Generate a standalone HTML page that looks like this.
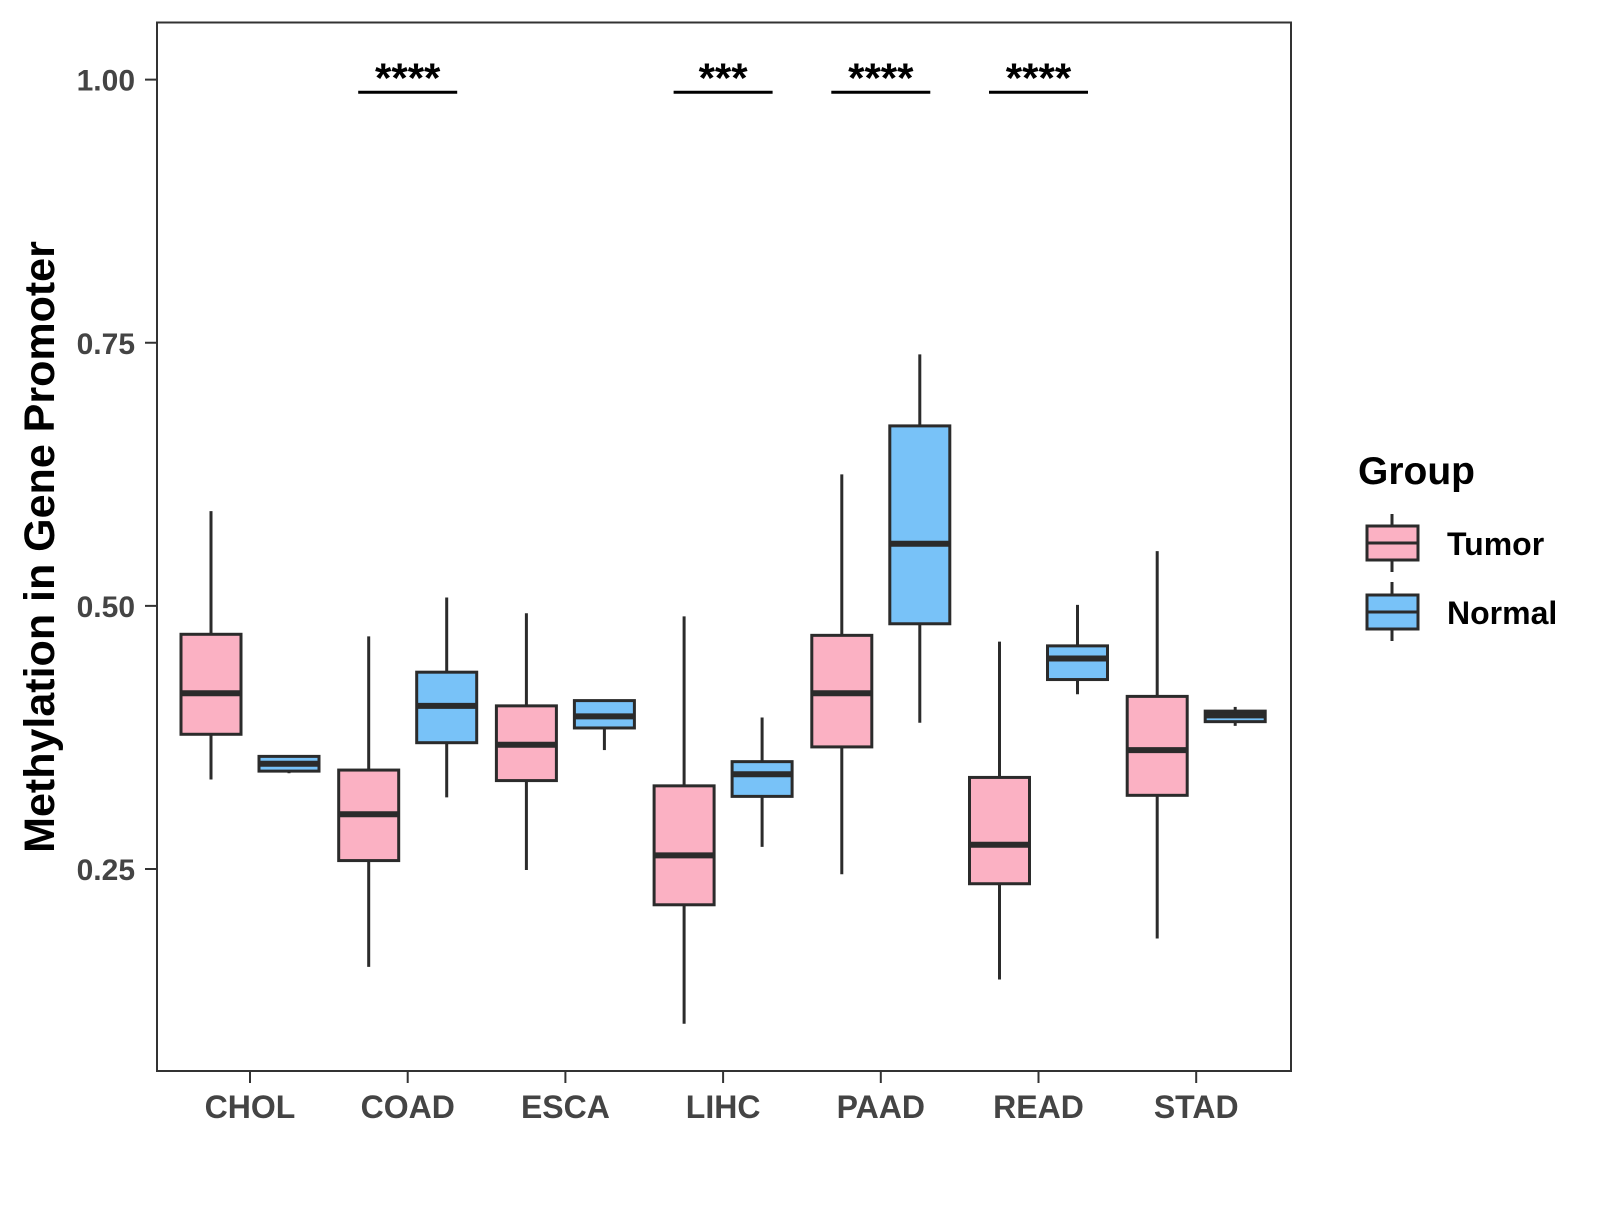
<!DOCTYPE html>
<html><head><meta charset="utf-8"><style>
body{margin:0;background:#fff}
svg text{font-family:"Liberation Sans",Arial,sans-serif;font-weight:bold}
</style></head><body>
<svg id="chart" width="1600" height="1200" xmlns="http://www.w3.org/2000/svg">
<rect x="157" y="22.5" width="1134" height="1048.5" fill="#fff" stroke="#333" stroke-width="2"/>
<g id="marks"></g>
<g id="axes"></g>
<text transform="translate(54,547) rotate(-90)" text-anchor="middle" font-size="43" fill="#000">Methylation in Gene Promoter</text>
<g>
<text x="1358" y="484" font-size="39" fill="#000">Group</text>
<g>
<line x1="1392" y1="514" x2="1392" y2="572" stroke="#2b2b2b" stroke-width="3"/>
<rect x="1367" y="526" width="51" height="34" fill="#FBB1C3" stroke="#2b2b2b" stroke-width="3"/>
<line x1="1367" y1="543" x2="1418" y2="543" stroke="#2b2b2b" stroke-width="3"/>
<text x="1447" y="555" font-size="32" fill="#000">Tumor</text></g>
<g>
<line x1="1392" y1="582" x2="1392" y2="641" stroke="#2b2b2b" stroke-width="3"/>
<rect x="1367" y="595" width="51" height="34" fill="#78C2F8" stroke="#2b2b2b" stroke-width="3"/>
<line x1="1367" y1="612" x2="1418" y2="612" stroke="#2b2b2b" stroke-width="3"/>
<text x="1447" y="624" font-size="32" fill="#000">Normal</text></g>
</g>
</svg>
<script>
const categories=["CHOL","COAD","ESCA","LIHC","PAAD","READ","STAD"];
// [low, q1, median, q3, high]
const tumorStats=[[0.335,0.378,0.417,0.473,0.590],[0.157,0.258,0.302,0.344,0.471],[0.249,0.334,0.368,0.405,0.493],[0.103,0.216,0.263,0.329,0.490],[0.245,0.366,0.417,0.472,0.625],[0.145,0.236,0.273,0.337,0.466],[0.184,0.320,0.363,0.414,0.552]];
const normalStats=[[0.341,0.343,0.350,0.357,0.357],[0.318,0.370,0.405,0.437,0.508],[0.363,0.384,0.395,0.410,0.410],[0.271,0.319,0.340,0.352,0.394],[0.389,0.483,0.559,0.671,0.739],[0.416,0.430,0.450,0.462,0.501],[0.386,0.390,0.396,0.400,0.404]];
const yTicks=[0.25,0.50,0.75,1.00];
const yTickLabels=["0.25","0.50","0.75","1.00"];
const sigCats=["COAD","LIHC","PAAD","READ"];
const sigLabels=["****","***","****","****"];
const sigY=0.988;

const NS="http://www.w3.org/2000/svg";
function y(v){return 869-(v-0.25)*1052.5;}
function x(i){return 250+157.7*i;}
function mk(tag,at,parent){const e=document.createElementNS(NS,tag);for(const k in at)e.setAttribute(k,at[k]);parent.appendChild(e);return e;}
const marks=document.getElementById('marks'),axes=document.getElementById('axes');
function drawBox(s,cx,fill,name){
  const g=mk('g',{},marks);
  
  
  mk('line',{x1:cx,x2:cx,y1:y(s[4]),y2:y(s[0]),stroke:'#2b2b2b','stroke-width':3},g);
  mk('rect',{x:cx-30,y:y(s[3]),width:60,height:Math.max(y(s[1])-y(s[3]),1),fill:fill,stroke:'#2b2b2b','stroke-width':3},g);
  mk('line',{x1:cx-30,x2:cx+30,y1:y(s[2]),y2:y(s[2]),stroke:'#2b2b2b','stroke-width':6},g);
}
categories.forEach((c,i)=>{
  drawBox(tumorStats[i],x(i)-39,'#FBB1C3','box-'+c.toLowerCase()+'-tumor');
  drawBox(normalStats[i],x(i)+39,'#78C2F8','box-'+c.toLowerCase()+'-normal');
  mk('line',{x1:x(i),x2:x(i),y1:1071,y2:1083,stroke:'#333','stroke-width':2},axes);
  const t=mk('text',{x:x(i),y:1118,'text-anchor':'middle','font-size':'32',fill:'#444'},axes);
  
  
  t.textContent=c;
});
yTicks.forEach((v,i)=>{
  mk('line',{x1:145,x2:157,y1:y(v),y2:y(v),stroke:'#333','stroke-width':2},axes);
  const t=mk('text',{x:135,y:y(v)+11,'text-anchor':'end','font-size':'30',fill:'#444'},axes);
  
  
  t.textContent=yTickLabels[i];
});
sigCats.forEach((c,k)=>{
  const i=categories.indexOf(c);
  const g=mk('g',{},marks);
  
  
  mk('line',{x1:x(i)-49.5,x2:x(i)+49.5,y1:y(sigY),y2:y(sigY),stroke:'#000','stroke-width':3},g);
  const t=mk('text',{x:x(i),y:y(sigY),'text-anchor':'middle','font-size':'42',fill:'#000'},g);
  t.textContent=sigLabels[k];
});
</script>
</body></html>
